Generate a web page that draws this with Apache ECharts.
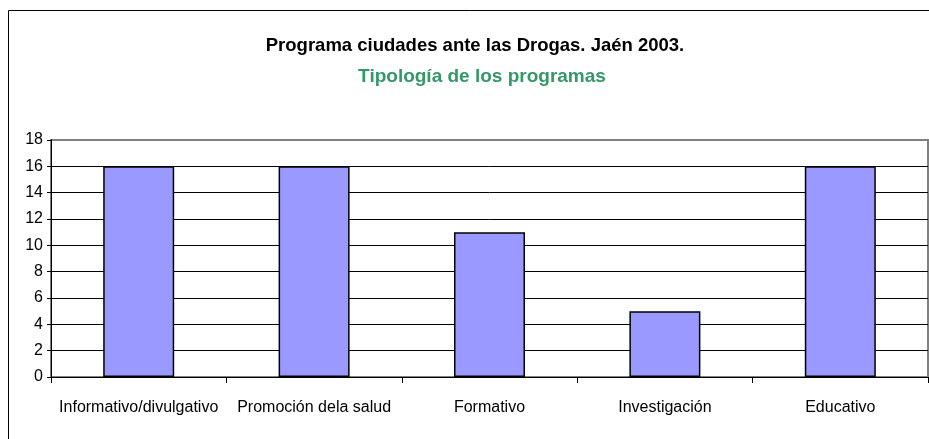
<!DOCTYPE html>
<html lang="es">
  <head>
    <meta charset="UTF-8" />
    <title>Tipología de los programas</title>
    <script src="https://cdn.jsdelivr.net/npm/echarts@6.0.0/dist/echarts.min.js"></script>
    <style>
      html, body { margin: 0; padding: 0; background: #fff; }
    </style>
  </head>
  <body>
    <div id="main" style="width: 929px; height: 439px"></div>
  </body>
  <script>
    const categorias = [
      "Informativo/divulgativo",
      "Promoción dela salud",
      "Formativo",
      "Investigación",
      "Educativo",
    ];
    const programas = [16, 16, 11, 5, 16];

    const fuente = "'Liberation Sans', Arial, sans-serif";

    var myChart = echarts.init(document.getElementById("main"));

    var option = {
      animation: false,
      backgroundColor: "#fff",
      title: [
        {
          text: "Programa ciudades ante las Drogas. Jaén 2003.",
          left: 470,
          textAlign: "center",
          top: 31,
          textStyle: { fontFamily: fuente, fontSize: 18.5, fontWeight: "bold", color: "#000" },
        },
        {
          text: "Tipología de los programas",
          left: 477,
          textAlign: "center",
          top: 62,
          textStyle: { fontFamily: fuente, fontSize: 19, fontWeight: "bold", color: "#339966" },
        },
      ],
      graphic: [
        {
          type: "rect",
          shape: { x: 8.5, y: 10.5, width: 940, height: 440 },
          style: { fill: null, stroke: "#000", lineWidth: 1 },
          silent: true,
        },
      ],
      grid: {
        left: 51,
        right: 1,
        top: 140,
        bottom: 62,
        show: true,
        borderColor: "#808080",
        borderWidth: 2,
        backgroundColor: "transparent",
      },
      xAxis: {
        type: "category",
        data: categorias,
        axisLine: { lineStyle: { color: "#000", width: 1 } },
        axisTick: { show: true, length: 6, lineStyle: { color: "#000" } },
        axisLabel: { interval: 0, fontFamily: fuente, fontSize: 16, color: "#000", margin: 23 },
      },
      yAxis: {
        type: "value",
        min: 0,
        max: 18,
        interval: 2,
        axisLine: { show: true, lineStyle: { color: "#000", width: 1 } },
        axisTick: { show: true, length: 4, lineStyle: { color: "#000" } },
        axisLabel: { fontFamily: fuente, fontSize: 16, color: "#000", margin: 8 },
        splitLine: {
          show: true,
          lineStyle: {
            color: ["#000", "#000", "#000", "#000", "#000", "#000", "#000", "#000", "#000", "#808080"],
            width: 1,
          },
        },
      },
      series: [
        {
          name: "Programas",
          type: "bar",
          data: programas,
          barWidth: 71,
          itemStyle: { color: "#9999FF", borderColor: "#000", borderWidth: 1.5 },
        },
      ],
    };

    myChart.setOption(option);
  </script>
</html>
